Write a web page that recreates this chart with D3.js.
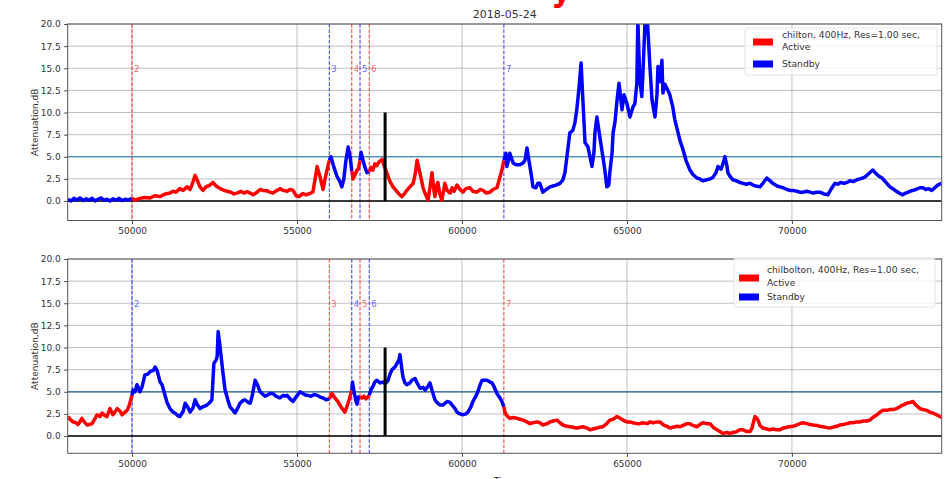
<!DOCTYPE html>
<html><head><meta charset="utf-8">
<script src="https://cdn.jsdelivr.net/npm/d3@7"></script>
<style>
body{margin:0;background:#fff;}
svg{display:block;font-family:"DejaVu Sans",sans-serif;}
</style></head>
<body><svg id="chart" width="951" height="479"></svg>
<script>
// ---------------- data ----------------
const titleText = "2018-05-24";
const yLabel = "Attenuation,dB";
const xTicks = [50000, 55000, 60000, 65000, 70000];
const yTicks = [0, 2.5, 5, 7.5, 10, 12.5, 15, 17.5, 20];
const xDomain = [48050, 74540];
const switchTimes = [50000, 55980, 56660, 56910, 57190, 61270];
const switchLabels = ["2", "3", "4", "5", "6", "7"];
const eventTime = 57670, eventHeight = 10, thresholdValue = 5;
const topStates = ["Standby", "Active", "Standby", "Active", "Standby", "Active", "Standby"];
const botStates = ["Active", "Standby", "Active", "Standby", "Active", "Standby", "Active"];
const topLegend = ["chilton, 400Hz, Res=1.00 sec,", "Active"];
const botLegend = ["chilbolton, 400Hz, Res=1.00 sec,", "Active"];
const standbyLabel = "Standby";

const topTime = [48060,48150,48240,48330,48420,48520,48610,48700,48790,48880,48970,49060,49150,49240,49330,49420,49520,49610,49700,49790,49880,50000,
50090,50240,50390,50550,50700,50850,51000,51150,51240,51330,51450,51550,51670,51760,51850,51910,51970,52060,52150,52240,52360,52450,52550,52670,52790,52880,53000,53090,53180,53300,53390,53480,53580,53670,53790,53880,53970,54090,54180,54270,54390,54480,54580,54700,54790,54880,54970,55060,55180,55270,55390,55480,55550,55610,55700,55790,55850,55940,55980,
56030,56120,56210,56300,56360,56420,56480,56550,56610,56660,
56700,56760,56820,56860,56910,
56940,57000,57060,57120,57190,
57240,57300,57360,57420,57480,57580,57640,57730,57820,57910,58000,58090,58180,58270,58330,58420,58520,58580,58640,58700,58760,58820,58880,58940,58970,59030,59090,59150,59180,59240,59270,59330,59390,59450,59480,59550,59640,59700,59760,59850,59940,60030,60120,60240,60330,60450,60550,60640,60730,60850,60940,61060,61120,61210,61270,
61330,61360,61420,61450,61550,61640,61760,61850,61910,61970,62060,62120,62150,62240,62300,62360,62450,62550,62670,62760,62850,62970,63060,63120,63180,63270,63360,63420,63480,63550,63610,63670,63730,63820,63880,63940,64000,64030,64090,64180,64270,64330,64390,64450,64480,64550,64580,64640,64700,64760,64850,64910,65000,65090,65180,65240,65300,65330,65390,65450,65480,65550,65610,65640,65700,65760,65850,65910,65940,66000,66060,66090,66150,66240,66300,66390,66450,66550,66610,66700,66790,66910,67000,67120,67210,67300,67420,67520,67610,67700,67760,67850,67910,67970,68030,68060,68120,68210,68300,68420,68520,68610,68730,68820,68910,69030,69120,69240,69330,69420,69550,69640,69730,69850,69940,70030,70150,70240,70330,70450,70550,70640,70760,70850,70970,71090,71180,71300,71390,71480,71580,71670,71760,71850,71970,72060,72150,72210,72300,72390,72450,72550,72640,72730,72850,72970,73090,73210,73300,73360,73450,73580,73670,73760,73880,73970,74060,74150,74240,74330,74420,74530];
const topValue = [0.2,0.0,0.3,0.1,0.35,0.05,0.25,0.1,0.3,0.0,0.2,0.35,0.1,0.2,0.0,0.25,0.1,0.3,0.05,0.2,0.1,0.3,
0.1,0.3,0.4,0.35,0.6,0.5,0.8,0.9,1.1,1.0,1.4,1.2,1.6,1.3,2.2,2.9,2.4,1.6,1.2,1.6,1.8,2.1,1.7,1.4,1.2,1.1,1.0,0.8,0.9,1.1,0.9,1.05,0.9,0.7,1.0,1.3,1.2,1.15,1.0,0.9,1.2,1.4,1.2,1.1,1.3,1.2,0.6,0.5,0.85,0.7,0.85,1.0,2.5,3.9,2.7,1.3,2.5,4.0,4.6,
5.0,3.8,2.8,2.2,1.6,2.5,4.5,6.1,5.0,3.4,
2.5,3.0,3.5,3.6,4.6,
5.5,4.6,3.8,3.2,3.3,
3.8,3.5,4.2,4.0,4.4,4.7,4.0,3.1,2.2,1.6,1.2,0.8,0.5,0.9,1.2,1.6,2.0,3.0,4.6,3.6,2.6,1.5,0.9,0.4,0.1,1.5,3.2,1.2,0.5,1.8,2.1,0.8,0.1,1.3,2.0,1.2,0.9,1.5,1.1,1.8,1.3,1.0,1.4,1.5,1.1,1.0,1.3,1.2,0.9,1.0,1.3,1.5,2.3,3.5,4.6,
5.4,3.9,4.8,5.4,4.3,4.1,4.1,4.3,4.6,6.0,3.9,2.5,1.6,1.5,2.0,2.0,1.0,1.3,1.6,1.7,1.8,2.0,2.4,3.2,5.0,7.7,8.0,8.8,10.3,12.9,15.6,11.0,6.6,6.1,5.0,3.9,5.5,7.7,9.5,7.2,5.0,3.5,1.6,1.8,3.2,5.5,7.7,9.0,11.4,13.3,10.3,12.0,11.0,9.5,10.6,11.0,13.3,20.5,13.7,11.8,14.0,20.5,21.0,19.0,15.0,11.4,9.5,12.0,15.2,13.5,15.9,12.2,13.2,12.5,12.0,10.6,9.2,7.7,6.8,5.8,4.6,3.5,3.0,2.6,2.5,2.3,2.4,2.5,2.7,3.2,3.9,3.6,4.2,5.0,4.0,3.2,2.8,2.4,2.3,2.1,2.0,1.9,2.0,1.8,1.7,1.6,2.0,2.6,2.3,2.0,1.7,1.6,1.5,1.3,1.2,1.2,1.1,1.0,1.0,1.1,1.0,0.9,1.0,1.0,0.8,0.7,1.3,2.0,1.9,2.1,2.0,2.1,2.3,2.2,2.4,2.5,2.6,2.7,3.0,3.3,3.5,3.1,2.8,2.6,2.1,1.6,1.3,1.0,0.8,0.7,0.9,1.1,1.2,1.3,1.5,1.5,1.3,1.4,1.2,1.5,1.8,2.0];

const botTime = [48060,48120,48210,48300,48360,48420,48480,48550,48640,48700,48790,48850,48940,49030,49090,49180,49240,49330,49420,49480,49550,49640,49700,49790,49850,49910,50000,
50030,50090,50150,50240,50300,50390,50480,50550,50640,50700,50760,50850,50910,51000,51060,51150,51240,51300,51390,51450,51550,51610,51700,51760,51850,51910,51970,52060,52150,52270,52360,52420,52480,52550,52580,52610,52670,52700,52760,52820,52910,52970,53060,53120,53210,53270,53360,53420,53520,53580,53640,53730,53790,53820,53880,53940,54030,54090,54180,54270,54360,54480,54580,54640,54700,54790,54880,54970,55090,55180,55270,55330,55420,55520,55610,55700,55790,55880,55980,
56060,56150,56240,56330,56450,56520,56580,56660,
56680,56730,56790,56820,56860,56910,
56970,57030,57090,57150,57190,
57240,57300,57360,57420,57520,57610,57670,57760,57820,57880,57970,58030,58090,58120,58180,58210,58270,58330,58420,58480,58580,58640,58730,58820,58880,58970,59030,59090,59180,59240,59330,59420,59550,59640,59700,59790,59850,59940,60030,60120,60180,60270,60330,60420,60480,60550,60610,60700,60760,60850,60910,60970,61060,61150,61210,61270,
61300,61360,61450,61550,61670,61760,61850,61970,62060,62150,62270,62360,62450,62580,62670,62760,62880,62970,63060,63180,63270,63360,63480,63580,63670,63790,63880,63970,64090,64180,64270,64390,64480,64580,64700,64790,64880,65000,65090,65180,65300,65390,65480,65610,65700,65790,65910,66000,66090,66210,66300,66390,66520,66610,66700,66820,66910,67000,67120,67210,67300,67420,67520,67610,67730,67820,67910,68030,68120,68210,68330,68420,68520,68640,68730,68790,68850,68880,68940,68970,69030,69120,69240,69330,69420,69550,69640,69730,69850,69940,70030,70150,70240,70330,70450,70550,70640,70760,70850,70940,71060,71150,71240,71360,71450,71550,71670,71760,71850,71970,72060,72150,72270,72360,72450,72580,72670,72760,72880,72970,73060,73180,73270,73360,73480,73580,73670,73730,73790,73880,73970,74090,74180,74270,74390,74480,74530];
const botValue = [2.2,1.9,1.6,1.5,1.3,1.6,2.0,1.6,1.25,1.3,1.4,1.8,2.4,2.2,2.6,2.3,2.2,3.1,2.4,2.7,3.1,2.8,2.4,2.7,2.9,3.4,4.6,
5.2,5.0,5.8,5.0,5.5,6.9,7.0,7.3,7.4,7.8,7.4,6.1,5.8,4.6,3.8,3.1,2.7,2.6,2.3,2.2,2.8,3.7,3.2,2.7,3.2,4.1,3.6,3.1,3.3,3.5,3.8,4.1,8.2,8.6,9.0,11.8,10.0,9.0,7.0,5.2,4.0,3.3,2.9,2.6,3.2,3.7,4.0,4.1,3.8,3.7,4.5,6.3,5.9,5.6,5.0,4.8,4.5,4.6,4.8,4.8,4.5,4.3,4.6,4.5,4.6,4.2,3.9,4.4,5.0,4.8,4.6,4.6,4.5,4.7,4.6,4.4,4.3,4.1,4.2,
4.8,4.3,3.9,3.3,2.7,3.4,4.1,5.2,
6.1,5.0,3.9,3.6,4.4,4.5,
4.3,4.5,4.2,4.4,4.6,
5.2,5.6,6.1,6.3,6.0,6.1,5.9,6.3,7.0,7.5,7.8,8.2,8.6,9.2,7.5,6.7,6.0,5.8,6.0,6.3,6.5,6.0,5.4,5.5,5.2,5.6,6.0,5.2,4.1,3.8,3.5,3.5,3.9,3.8,3.5,3.1,2.7,2.5,2.4,2.5,2.7,3.3,3.9,4.5,5.0,5.8,6.3,6.3,6.3,6.1,6.0,5.6,4.8,4.3,3.9,3.3,
2.7,2.3,2.0,2.1,2.0,1.9,1.8,1.6,1.4,1.5,1.6,1.5,1.25,1.4,1.6,1.7,1.8,1.5,1.25,1.1,1.05,1.0,0.9,1.0,1.05,0.9,0.7,0.8,0.9,1.0,1.05,1.4,1.8,1.9,2.2,2.0,1.8,1.6,1.6,1.5,1.4,1.4,1.5,1.4,1.6,1.5,1.6,1.6,1.3,1.1,0.9,1.0,1.1,1.05,1.2,1.4,1.4,1.2,1.05,1.3,1.5,1.4,1.4,1.0,0.7,0.5,0.3,0.4,0.3,0.4,0.5,0.7,0.7,0.5,0.5,0.9,1.8,2.2,2.0,1.8,1.2,0.9,0.8,0.7,0.8,0.7,0.7,0.9,1.0,1.05,1.1,1.25,1.4,1.5,1.4,1.3,1.25,1.2,1.1,1.05,0.95,0.9,1.0,1.1,1.25,1.3,1.4,1.5,1.5,1.6,1.6,1.7,1.7,1.8,2.1,2.4,2.7,2.9,2.9,3.0,3.0,3.1,3.3,3.5,3.7,3.8,3.9,3.6,3.4,3.1,3.0,2.9,2.7,2.6,2.4,2.2,2.1];

const stateColor = {Active: "#ff0000", Standby: "#0000ff"};

// ---------------- drawing ----------------
const svg = d3.select("#chart");
const left = 67.7, right = 941.7;
const x = d3.scaleLinear().domain(xDomain).range([left, right]);

const panels = [
  {top: 24, bottom: 220.5, ymin: -2.2, time: topTime, value: topValue, states: topStates, legend: topLegend,
   hlineColor: "#1f77b4", leg: {x: 745, y: 28, w: 192, h: 47, patchX: 753, textX: 782, l1: 35, l2: 46.5, p1: 42, p2: 64}},
  {top: 259, bottom: 453.3, ymin: -1.95, time: botTime, value: botValue, states: botStates, legend: botLegend,
   hlineColor: "#1f5f8f", leg: {x: 734, y: 258, w: 201, h: 49, patchX: 739, textX: 767, l1: 270, l2: 282.5, p1: 278, p2: 297}}
];

panels.forEach((p, pi) => {
  const y = d3.scaleLinear().domain([p.ymin, 20]).range([p.bottom, p.top]);
  const g = svg.append("g");
  const clipId = "clip" + pi;
  svg.append("clipPath").attr("id", clipId).append("rect")
    .attr("x", left).attr("y", p.top).attr("width", right - left).attr("height", p.bottom - p.top);

  // grid
  g.selectAll(".gy").data(yTicks).join("line")
    .attr("x1", left).attr("x2", right).attr("y1", d => y(d)).attr("y2", d => y(d))
    .attr("stroke", "#b0b0b0").attr("stroke-width", 0.8);
  g.selectAll(".gx").data(xTicks).join("line")
    .attr("x1", d => x(d)).attr("x2", d => x(d)).attr("y1", p.top).attr("y2", p.bottom)
    .attr("stroke", "#b0b0b0").attr("stroke-width", 0.8);

  // axes
  const ya = g.append("g").attr("transform", `translate(${left},0)`)
    .call(d3.axisLeft(y).tickValues(yTicks).tickFormat(d3.format(".1f")).tickSize(3.5).tickPadding(3.5));
  const xa = g.append("g").attr("transform", `translate(0,${p.bottom})`)
    .call(d3.axisBottom(x).tickValues(xTicks).tickFormat(d3.format("d")).tickSize(3.5).tickPadding(3.5));
  [ya, xa].forEach(a => {
    a.select(".domain").remove();
    a.selectAll("line").attr("stroke", "#444");
    a.selectAll("text").attr("font-size", 9).attr("fill", "#333").attr("font-family", "DejaVu Sans");
  });

  const plot = g.append("g").attr("clip-path", `url(#${clipId})`);

  // switch markers
  const bounds = [xDomain[0], ...switchTimes, xDomain[1]];
  switchTimes.forEach((t, i) => {
    const c = stateColor[p.states[i + 1]];
    plot.append("line").attr("x1", x(t)).attr("x2", x(t)).attr("y1", p.top).attr("y2", p.bottom)
      .attr("stroke", c).attr("stroke-width", 1).attr("stroke-dasharray", "3.7,1.6").attr("opacity", 0.8);
    plot.append("text").attr("x", x(t) + 2).attr("y", y(15) + 3.5).text(switchLabels[i])
      .attr("font-size", 8.5).attr("fill", c).attr("opacity", 0.6);
  });

  // reference lines
  plot.append("line").attr("x1", left).attr("x2", right).attr("y1", y(thresholdValue)).attr("y2", y(thresholdValue))
    .attr("stroke", p.hlineColor).attr("stroke-width", 1.2);
  plot.append("line").attr("x1", left).attr("x2", right).attr("y1", y(0)).attr("y2", y(0))
    .attr("stroke", "#000").attr("stroke-width", 1.5);

  // series segments
  const pts = p.time.map((t, i) => [t, p.value[i]]);
  const line = d3.line().x(d => x(d[0])).y(d => y(d[1]));
  for (let s = 0; s < bounds.length - 1; s++) {
    const seg = pts.filter(d => d[0] >= bounds[s] && d[0] <= bounds[s + 1]);
    plot.append("path").datum(seg).attr("d", line).attr("fill", "none")
      .attr("stroke", stateColor[p.states[s]]).attr("stroke-width", 3.5).attr("stroke-linejoin", "round");
  }

  // event bar
  plot.append("line").attr("x1", x(eventTime)).attr("x2", x(eventTime)).attr("y1", y(0)).attr("y2", y(eventHeight))
    .attr("stroke", "#000").attr("stroke-width", 3);

  // frame
  g.append("rect").attr("x", left).attr("y", p.top).attr("width", right - left).attr("height", p.bottom - p.top)
    .attr("fill", "none").attr("stroke", "#555").attr("stroke-width", 1);

  // y label
  g.append("text").attr("transform", `translate(38,${(p.top + p.bottom) / 2}) rotate(-90)`)
    .attr("text-anchor", "middle").attr("font-size", 9).attr("fill", "#333").text(yLabel);

  // legend
  const L = p.leg;
  const lg = g.append("g");
  lg.append("rect").attr("x", L.x).attr("y", L.y).attr("width", L.w).attr("height", L.h).attr("rx", 2)
    .attr("fill", "#fff").attr("fill-opacity", 0.8).attr("stroke", "#dddddd").attr("stroke-width", 0.8);
  lg.append("rect").attr("x", L.patchX).attr("y", L.p1 - 3.5).attr("width", 20).attr("height", 7).attr("fill", stateColor.Active);
  lg.append("rect").attr("x", L.patchX).attr("y", L.p2 - 3.5).attr("width", 20).attr("height", 7).attr("fill", stateColor.Standby);
  lg.append("text").attr("x", L.textX).attr("y", L.l1 + 3.3).attr("font-size", 9.2).attr("fill", "#333").text(p.legend[0]);
  lg.append("text").attr("x", L.textX).attr("y", L.l2 + 3.3).attr("font-size", 9.2).attr("fill", "#333").text(p.legend[1]);
  lg.append("text").attr("x", L.textX).attr("y", L.p2 + 3.3).attr("font-size", 9.2).attr("fill", "#333").text(standbyLabel);
});

// title
svg.append("text").attr("x", 504.7).attr("y", 18).attr("text-anchor", "middle")
  .attr("font-size", 11).attr("fill", "#333").text(titleText);
// cropped red annotation fragment at the top edge
svg.append("text").attr("x", 551).attr("y", 1).attr("font-size", 32).attr("font-weight", "bold")
  .attr("fill", "#ff0000").text("y");
// cropped x-axis label at the bottom edge
svg.append("text").attr("x", 504.7).attr("y", 484).attr("text-anchor", "middle")
  .attr("font-size", 9).attr("fill", "#333").text("Time");
</script></body></html>
